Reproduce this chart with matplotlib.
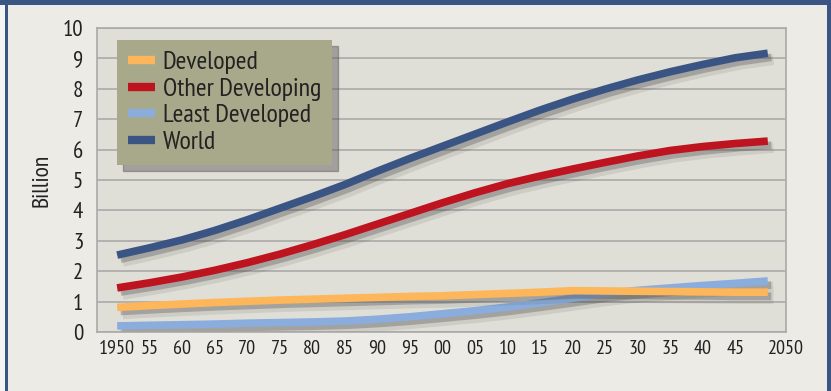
import numpy as np
import matplotlib.pyplot as plt
import matplotlib.patheffects as pe
from matplotlib.patches import Rectangle

plt.rcParams['font.family'] = ['PT Sans Narrow', 'DejaVu Sans']

# data (billion)
years = [1950, 1955, 1960, 1965, 1970, 1975, 1980, 1985, 1990, 1995, 2000,
         2005, 2010, 2015, 2020, 2025, 2030, 2035, 2040, 2045, 2050]
world = [2.53, 2.77, 3.03, 3.34, 3.69, 4.07, 4.45, 4.85, 5.29, 5.71, 6.11,
         6.51, 6.91, 7.30, 7.66, 7.99, 8.29, 8.56, 8.80, 9.02, 9.17]
other_dev = [1.45, 1.62, 1.81, 2.03, 2.28, 2.56, 2.87, 3.20, 3.55, 3.90, 4.25,
             4.58, 4.88, 5.13, 5.36, 5.58, 5.79, 5.97, 6.10, 6.20, 6.28]
developed = [0.81, 0.87, 0.92, 0.97, 1.01, 1.05, 1.08, 1.11, 1.14, 1.17, 1.19,
             1.23, 1.27, 1.31, 1.36, 1.35, 1.34, 1.33, 1.32, 1.31, 1.31]
least_dev = [0.20, 0.22, 0.24, 0.26, 0.29, 0.31, 0.33, 0.36, 0.42, 0.50, 0.60,
             0.70, 0.82, 0.96, 1.11, 1.26, 1.37, 1.45, 1.53, 1.60, 1.68]
xlabels = ['1950', '55', '60', '65', '70', '75', '80', '85', '90', '95', '00',
           '05', '10', '15', '20', '25', '30', '35', '40', '45', '2050']

c_dev = '#FDB65A'
c_other = '#BD1420'
c_least = '#8AADDD'
c_world = '#3A5583'

fig = plt.figure(figsize=(8.31, 3.91), dpi=100)
fig.patch.set_facecolor('#ECEBE6')
# frame
fig.add_artist(Rectangle((0, 0), 5/831, 1, transform=fig.transFigure, color='#F4F4F2', lw=0))
fig.add_artist(Rectangle((5/831, 0), 2.5/831, 1, transform=fig.transFigure, color=c_world, lw=0))
fig.add_artist(Rectangle((827/831, 0), 4/831, 1, transform=fig.transFigure, color=c_world, lw=0))
fig.add_artist(Rectangle((0, 1 - 5/391), 1, 5/391, transform=fig.transFigure, color=c_world, lw=0))

ax = fig.add_axes([97/831, 59/391, 689/831, 304/391])
ax.set_facecolor('#E0DFD7')
for s in ax.spines.values():
    s.set_color('#AAAAAA')
    s.set_linewidth(1.2)

shadow = [pe.SimpleLineShadow(offset=(4, -4.5), shadow_color='#444444', alpha=0.12, linewidth=8),
          pe.SimpleLineShadow(offset=(2.5, -3), shadow_color='#444444', alpha=0.3),
          pe.Normal()]
kw = dict(lw=5.5, solid_capstyle='butt', solid_joinstyle='round', path_effects=shadow)
h_world, = ax.plot(years, world, color=c_world, label='World', **kw)
h_other, = ax.plot(years, other_dev, color=c_other, label='Other Developing', **kw)
h_least, = ax.plot(years, least_dev, color=c_least, label='Least Developed', **kw)
h_dev, = ax.plot(years, developed, color=c_dev, label='Developed', **kw)

ax.set_xlim(1946.9, 2052.8)
ax.set_ylim(0, 10)
ax.set_yticks(range(0, 11))
ax.yaxis.grid(True, color='#AAAAAA', lw=1.2)
ax.set_axisbelow(True)
ax.set_xticks(years)
ax.set_xticklabels(xlabels)
ax.tick_params(axis='both', length=0, colors='#222222')
ax.tick_params(axis='y', labelsize=16.5, pad=10)
ax.tick_params(axis='x', labelsize=14.5, pad=6)
ax.get_xticklabels()[-1].set_horizontalalignment('left')
ax.set_ylabel('Billion', fontsize=17, color='#222222', labelpad=7)

leg = ax.legend(handles=[h_dev, h_other, h_least, h_world],
                loc='upper left', bbox_to_anchor=(0.029, 0.9605), borderaxespad=0,
                fontsize=18.7, frameon=True, fancybox=False,
                shadow={'color': '#555555', 'alpha': 0.45, 'ox': 4, 'oy': -4},
                handlelength=1.04, handletextpad=0.29, labelspacing=0.13,
                borderpad=0.43)
leg.get_frame().set_facecolor('#A8A98B')
leg.get_frame().set_alpha(1)
leg.get_frame().set_edgecolor('none')
for t in leg.get_texts():
    t.set_color('#222222')
for h in leg.legend_handles:
    h.set_path_effects([])
    h.set_linewidth(6)

fig.savefig('out.png', dpi=100, facecolor=fig.get_facecolor())
